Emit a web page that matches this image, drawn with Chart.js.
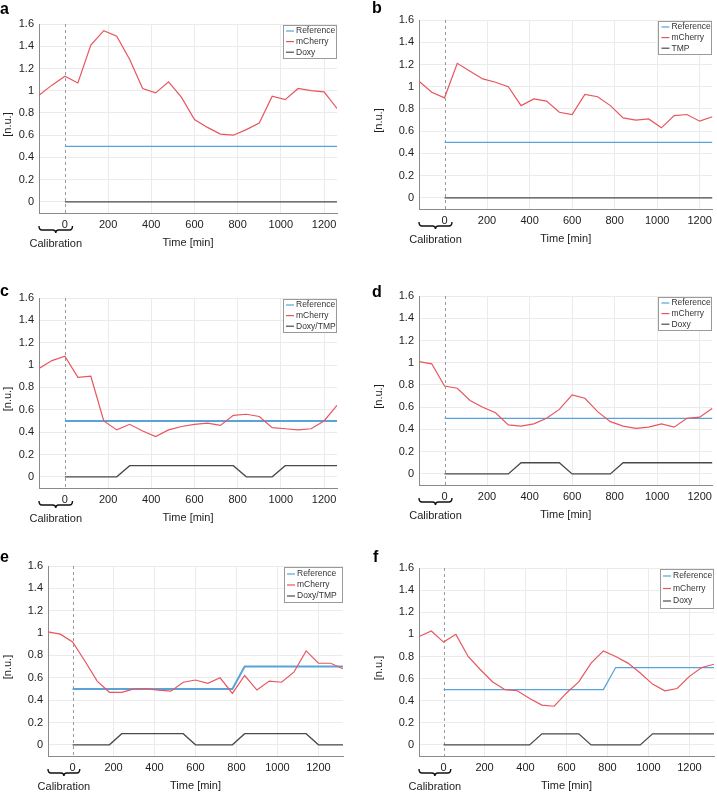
<!DOCTYPE html>
<html>
<head>
<meta charset="utf-8">
<script src="https://cdn.jsdelivr.net/npm/chart.js@4.4.1/dist/chart.umd.min.js"></script>
<style>
  body { margin: 0; background: #fff; }
  #wrap { position: relative; width: 717px; height: 794px; }
  #wrap canvas { position: absolute; }
</style>
</head>
<body>
<div id="wrap"></div>
<script>
// time points (min), one sample per hour, calibration starts at -120
const timeShort = [-120, -60, 0, 60, 120, 180, 240, 300, 360, 420, 480, 540, 600, 660, 720, 780, 840, 900, 960, 1020, 1080, 1140, 1200, 1260];
const timeLong = [-120, -60, 0, 60, 120, 180, 240, 300, 360, 420, 480, 540, 600, 660, 720, 780, 840, 900, 960, 1020, 1080, 1140, 1200, 1260, 1320];

const xTicks = [0, 200, 400, 600, 800, 1000, 1200];
const yTicks = [0, 0.2, 0.4, 0.6, 0.8, 1, 1.2, 1.4, 1.6];

// mCherry readout per panel
const cherryA = [0.96, 1.05, 1.13, 1.07, 1.41, 1.54, 1.49, 1.28, 1.02, 0.98, 1.08, 0.94, 0.74, 0.67, 0.61, 0.60, 0.65, 0.71, 0.95, 0.92, 1.02, 1.00, 0.99, 0.84];
const cherryB = [1.05, 0.95, 0.90, 1.21, 1.14, 1.07, 1.04, 1.00, 0.83, 0.89, 0.87, 0.77, 0.75, 0.93, 0.91, 0.83, 0.72, 0.70, 0.71, 0.63, 0.74, 0.75, 0.69, 0.73];
const cherryC = [0.97, 1.04, 1.08, 0.89, 0.90, 0.50, 0.42, 0.47, 0.41, 0.36, 0.42, 0.45, 0.47, 0.48, 0.46, 0.55, 0.56, 0.54, 0.44, 0.43, 0.42, 0.43, 0.50, 0.64];
const cherryD = [1.01, 0.99, 0.79, 0.77, 0.66, 0.60, 0.55, 0.44, 0.43, 0.45, 0.50, 0.58, 0.71, 0.68, 0.56, 0.47, 0.43, 0.41, 0.42, 0.45, 0.42, 0.50, 0.51, 0.59];
const cherryE = [1.01, 0.99, 0.92, 0.75, 0.57, 0.47, 0.47, 0.50, 0.50, 0.49, 0.48, 0.56, 0.58, 0.55, 0.60, 0.46, 0.62, 0.49, 0.57, 0.56, 0.65, 0.84, 0.73, 0.73, 0.68];
const cherryF = [0.98, 1.03, 0.93, 1.00, 0.80, 0.68, 0.57, 0.50, 0.49, 0.42, 0.36, 0.35, 0.47, 0.57, 0.74, 0.85, 0.80, 0.74, 0.65, 0.55, 0.49, 0.51, 0.62, 0.70, 0.73];

// reference set-point (breakpoints)
const refFlatT = [0, 1260];
const refFlatV = [0.5, 0.5];
const refStepT = [0, 780, 840, 1320];
const refStepV = [0.5, 0.5, 0.7, 0.7];

// inducer input (breakpoints)
const drugA_t = [0, 1260];            const drugA_v = [0, 0];
const drugB_t = [0, 1260];            const drugB_v = [0, 0];
const drugC_t = [0, 240, 300, 780, 840, 960, 1020, 1260];
const drugC_v = [0, 0, 0.1, 0.1, 0, 0, 0.1, 0.1];
const drugD_t = [0, 300, 360, 540, 600, 780, 840, 1260];
const drugD_v = [0, 0, 0.1, 0.1, 0, 0, 0.1, 0.1];
const drugE_t = [0, 180, 240, 540, 600, 780, 840, 1140, 1200, 1320];
const drugE_v = [0, 0, 0.1, 0.1, 0, 0, 0.1, 0.1, 0, 0];
const drugF_t = [0, 420, 480, 660, 720, 960, 1020, 1320];
const drugF_v = [0, 0, 0.1, 0.1, 0, 0, 0.1, 0.1];

const BLUE = '#5aa3d8', RED = '#e8555f', DARK = '#4a4a4a';
const FONT = '"Liberation Sans", Arial, Helvetica, sans-serif';

const pts = (t, v) => t.map((x, i) => ({ x: x, y: v[i] }));

const overlay = {
  id: 'overlay',
  beforeDatasetsDraw(chart) {
    const { ctx, chartArea: a, scales } = chart;
    const x0 = scales.x.getPixelForValue(0);
    ctx.save();
    ctx.strokeStyle = '#9a9a9a';
    ctx.lineWidth = 1;
    ctx.setLineDash([3, 3]);
    ctx.beginPath();
    ctx.moveTo(Math.round(x0) + 0.5, a.top);
    ctx.lineTo(Math.round(x0) + 0.5, a.bottom);
    ctx.stroke();
    ctx.restore();
  },
  afterDraw(chart, args, o) {
    const { ctx, chartArea: a, scales } = chart;
    ctx.save();
    // legend box
    const bw = o.legendW, bh = o.legendH;
    const bx = a.right - 1 - bw, by = a.top + 1;
    ctx.fillStyle = '#fff';
    ctx.fillRect(bx, by, bw, bh);
    ctx.strokeStyle = '#9a9a9a';
    ctx.lineWidth = 1;
    ctx.strokeRect(Math.round(bx) + 0.5, Math.round(by) + 0.5, bw, bh);
    ctx.font = '8.5px ' + FONT;
    ctx.textBaseline = 'middle';
    ctx.textAlign = 'left';
    const cols = [BLUE, RED, DARK];
    const names = ['Reference', 'mCherry', o.drug];
    names.forEach((n, i) => {
      const ry = by + o.legendTop + i * o.rowGap;
      ctx.strokeStyle = cols[i];
      ctx.lineWidth = 1.2;
      ctx.beginPath();
      ctx.moveTo(bx + 3, ry);
      ctx.lineTo(bx + 11, ry);
      ctx.stroke();
      ctx.fillStyle = '#333';
      ctx.fillText(n, bx + 13, ry);
    });

    // axis titles
    ctx.fillStyle = '#222';
    ctx.font = '11px ' + FONT;
    ctx.textAlign = 'center';
    ctx.fillText('Time [min]', (a.left + a.right) / 2, a.bottom + 30);
    ctx.save();
    ctx.translate(o.yLabelX, (a.top + a.bottom) / 2 + 6);
    ctx.rotate(-Math.PI / 2);
    ctx.fillText('[n.u.]', 0, 0);
    ctx.restore();

    // calibration bracket
    const x0 = a.left, x1 = scales.x.getPixelForValue(35), mid = (x0 + x1) / 2;
    const yt = a.bottom + 13, yl = a.bottom + 17;
    ctx.strokeStyle = '#111';
    ctx.lineWidth = 1.4;
    ctx.beginPath();
    ctx.moveTo(x0, yt);
    ctx.quadraticCurveTo(x0, yl, x0 + 3, yl);
    ctx.lineTo(mid - 3, yl);
    ctx.quadraticCurveTo(mid, yl, mid, yl + 3);
    ctx.quadraticCurveTo(mid, yl, mid + 3, yl);
    ctx.lineTo(x1 - 3, yl);
    ctx.quadraticCurveTo(x1, yl, x1, yt);
    ctx.stroke();
    ctx.fillText('Calibration', mid, a.bottom + 31);

    // panel letter
    ctx.font = 'bold 16px ' + FONT;
    ctx.textAlign = 'left';
    ctx.textBaseline = 'alphabetic';
    ctx.fillStyle = '#000';
    ctx.fillText(o.letter, o.letterX, o.letterY);
    ctx.restore();
  }
};

function makePanel(p) {
  const c = document.createElement('canvas');
  c.width = p.cell[2];
  c.height = p.cell[3];
  c.style.left = p.cell[0] + 'px';
  c.style.top = p.cell[1] + 'px';
  document.getElementById('wrap').appendChild(c);
  const [cx, cy, cw, ch] = p.cell;
  const [L, T, R, B] = p.area;
  const tickFont = { family: FONT, size: 11 };
  new Chart(c.getContext('2d'), {
    type: 'line',
    data: {
      datasets: [
        { label: 'mCherry', data: pts(p.time, p.cherry), borderColor: RED, borderWidth: 1.2, pointRadius: 0, tension: 0 },
        { label: 'Reference', data: pts(p.refT, p.refV), borderColor: BLUE, borderWidth: p.refW || 1.3, pointRadius: 0, tension: 0 },
        { label: p.drug, data: pts(p.drugT, p.drugV), borderColor: DARK, borderWidth: 1.3, pointRadius: 0, tension: 0 }
      ]
    },
    options: {
      responsive: false,
      animation: false,
      devicePixelRatio: 1,
      layout: { padding: { left: 0, top: T - cy, right: cx + cw - R, bottom: 0 } },
      plugins: {
        legend: { display: false },
        tooltip: { enabled: false },
        overlay: {
          letter: p.letter, letterX: p.letterPos[0], letterY: p.letterPos[1],
          drug: p.drug, legendW: p.legendW || 53, legendH: p.legendH || 33,
          legendTop: p.legendTop || 6, rowGap: p.rowGap || 10.6, yLabelX: p.yLabelX
        }
      },
      scales: {
        x: {
          type: 'linear', min: -120, max: p.xMax,
          afterBuildTicks: s => { s.ticks = xTicks.map(v => ({ value: v })); },
          afterFit: s => { s.height = cy + ch - B; },
          grid: { color: ctx => (ctx.tick && ctx.tick.value === 0) ? 'rgba(0,0,0,0)' : '#ebebeb', drawTicks: false },
          border: { color: '#8a8a8a', width: 1 },
          ticks: { padding: 5, font: tickFont, color: '#222', maxRotation: 0, autoSkip: false, callback: v => String(v) }
        },
        y: {
          min: -0.1, max: 1.6,
          afterBuildTicks: s => { s.ticks = yTicks.map(v => ({ value: v })); },
          afterFit: s => { s.width = L - cx; },
          grid: { color: '#ebebeb', drawTicks: false },
          border: { color: '#8a8a8a', width: 1 },
          ticks: { padding: 5, font: tickFont, color: '#222', callback: v => String(+v.toFixed(1)) }
        }
      }
    },
    plugins: [overlay]
  });
}

makePanel({ letter: 'a', letterPos: [0, 14], cell: [0, 0, 358, 265], area: [39, 24, 337, 213], xMax: 1260,
  time: timeShort, cherry: cherryA, refT: refFlatT, refV: refFlatV, drugT: drugA_t, drugV: drugA_v, drug: 'Doxy', yLabelX: 7.5 });
makePanel({ letter: 'b', letterPos: [14, 13], cell: [358, 0, 359, 265], area: [419, 20, 715, 209], xMax: 1260,
  time: timeShort, cherry: cherryB, refT: refFlatT, refV: refFlatV, drugT: drugB_t, drugV: drugB_v, drug: 'TMP', yLabelX: 21 });
makePanel({ letter: 'c', letterPos: [0, 296 - 265], cell: [0, 265, 358, 265], area: [39, 298, 337, 488], xMax: 1260, refW: 2,
  time: timeShort, cherry: cherryC, refT: refFlatT, refV: refFlatV, drugT: drugC_t, drugV: drugC_v, drug: 'Doxy/TMP', yLabelX: 7.5 });
makePanel({ letter: 'd', letterPos: [14, 297 - 265], cell: [358, 265, 359, 265], area: [419, 296, 715, 485], xMax: 1260,
  time: timeShort, cherry: cherryD, refT: refFlatT, refV: refFlatV, drugT: drugD_t, drugV: drugD_v, drug: 'Doxy', yLabelX: 21 });
makePanel({ letter: 'e', letterPos: [0, 562 - 530], cell: [0, 530, 358, 264], area: [48, 566, 343, 756], xMax: 1320, refW: 2,
  legendW: 58, legendH: 35, legendTop: 7, rowGap: 11,
  time: timeLong, cherry: cherryE, refT: refStepT, refV: refStepV, drugT: drugE_t, drugV: drugE_v, drug: 'Doxy/TMP', yLabelX: 8 });
makePanel({ letter: 'f', letterPos: [15, 562 - 530], cell: [358, 530, 359, 264], area: [419, 568, 714, 756], xMax: 1320,
  legendH: 39, legendTop: 7, rowGap: 12.5,
  time: timeLong, cherry: cherryF, refT: refStepT, refV: refStepV, drugT: drugF_t, drugV: drugF_v, drug: 'Doxy', yLabelX: 21 });
</script>
</body>
</html>
